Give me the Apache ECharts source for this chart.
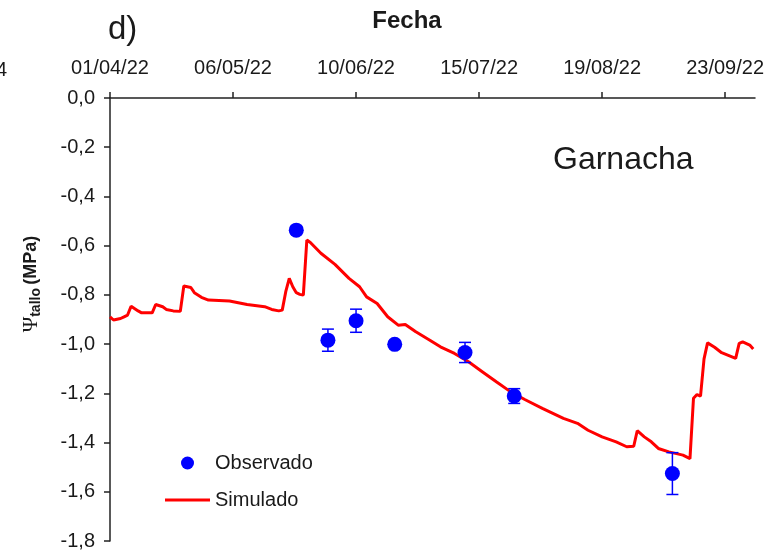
<!DOCTYPE html>
<html>
<head>
<meta charset="utf-8">
<title>Garnacha - Ψ tallo</title>
<script src="https://cdn.jsdelivr.net/npm/echarts@6/dist/echarts.min.js"></script>
<style>
  html, body { margin: 0; padding: 0; background: #fff; }
  #chart { width: 773px; height: 552px; }
</style>
</head>
<body>
<div id="chart"></div>
<script>
// Simulated stem water potential (MPa), daily model output
const simDates = [
  '2022-04-01','2022-04-02','2022-04-04','2022-04-05','2022-04-06','2022-04-07','2022-04-09','2022-04-10',
  '2022-04-13','2022-04-14','2022-04-16','2022-04-17','2022-04-19','2022-04-21','2022-04-22','2022-04-24',
  '2022-04-25','2022-04-27','2022-04-29','2022-05-05','2022-05-10','2022-05-15','2022-05-17','2022-05-19',
  '2022-05-20','2022-05-21','2022-05-22','2022-05-23','2022-05-24','2022-05-25','2022-05-26','2022-05-27',
  '2022-05-28','2022-05-31','2022-06-04','2022-06-08','2022-06-11','2022-06-13','2022-06-16','2022-06-19',
  '2022-06-22','2022-06-24','2022-06-27','2022-07-01','2022-07-04','2022-07-08','2022-07-12','2022-07-16',
  '2022-07-20','2022-07-24','2022-07-28','2022-08-02','2022-08-08','2022-08-12','2022-08-15','2022-08-19',
  '2022-08-23','2022-08-26','2022-08-28','2022-08-29','2022-08-31','2022-09-02','2022-09-04','2022-09-07',
  '2022-09-11','2022-09-13','2022-09-14','2022-09-15','2022-09-16','2022-09-17','2022-09-18','2022-09-20',
  '2022-09-22','2022-09-26','2022-09-27','2022-09-28','2022-09-30','2022-10-01'
];
const simValues = [
  -0.889,-0.902,-0.896,-0.889,-0.882,-0.846,-0.865,-0.873,
  -0.873,-0.839,-0.848,-0.859,-0.865,-0.867,-0.764,-0.770,
  -0.791,-0.810,-0.821,-0.825,-0.839,-0.848,-0.859,-0.865,
  -0.862,-0.787,-0.733,-0.767,-0.791,-0.798,-0.801,-0.577,
  -0.587,-0.631,-0.676,-0.733,-0.767,-0.808,-0.835,-0.889,
  -0.923,-0.920,-0.950,-0.984,-1.011,-1.038,-1.072,-1.113,
  -1.154,-1.194,-1.225,-1.261,-1.302,-1.322,-1.350,-1.377,
  -1.397,-1.417,-1.415,-1.352,-1.377,-1.397,-1.424,-1.438,
  -1.451,-1.465,-1.220,-1.205,-1.211,-1.060,-0.995,-1.013,
  -1.035,-1.058,-0.997,-0.991,-1.004,-1.020
];

// Field measurements: mean and error
const obsDates  = ['2022-05-24','2022-06-02','2022-06-10','2022-06-21','2022-07-11','2022-07-25','2022-09-08'];
const obsValues = [-0.537, -0.984, -0.905, -1.001, -1.034, -1.211, -1.526];
const obsErr    = [0.015, 0.045, 0.047, 0.012, 0.041, 0.030, 0.085];

// Axis tick labels
const xTickLabels = ['01/04/22','06/05/22','10/06/22','15/07/22','19/08/22','23/09/22'];

const START = Date.UTC(2022, 3, 1);
const DAY = 86400000;
const dayOf = s => (Date.parse(s + 'T00:00:00Z') - START) / DAY;
const dayOfLabel = l => {
  const [d, m, y] = l.split('/').map(Number);
  return (Date.UTC(2000 + y, m - 1, d) - START) / DAY;
};
const fmtDay = v => {
  const dt = new Date(START + Math.round(v) * DAY);
  const p = n => String(n).padStart(2, '0');
  return p(dt.getUTCDate()) + '/' + p(dt.getUTCMonth() + 1) + '/' + String(dt.getUTCFullYear()).slice(2);
};

const xTicks = xTickLabels.map(dayOfLabel);
const simData = simDates.map((d, i) => [dayOf(d), simValues[i]]);
const obsData = obsDates.map((d, i) => [dayOf(d), obsValues[i]]);
const errData = obsDates.map((d, i) => [dayOf(d), obsValues[i] - obsErr[i], obsValues[i] + obsErr[i]]);

const FONT = "'Liberation Sans', Arial, sans-serif";
const INK = '#1a1a1a';
const BLUE = '#0000ff';
const RED = '#ff0000';

const chart = echarts.init(document.getElementById('chart'), null, { renderer: 'canvas' });

chart.setOption({
  animation: false,
  backgroundColor: '#fff',
  grid: { left: 110, right: 18, top: 98, bottom: 11, containLabel: false },
  xAxis: {
    type: 'value',
    position: 'top',
    min: 0,
    max: 183.5,
    axisLine: { show: true, onZero: false, lineStyle: { color: '#222', width: 1.5 } },
    axisTick: { show: true, length: 6, customValues: xTicks, lineStyle: { color: '#222', width: 1.5 } },
    axisLabel: {
      customValues: xTicks,
      formatter: fmtDay,
      margin: 20,
      fontFamily: FONT, fontSize: 20, color: INK
    },
    splitLine: { show: false }
  },
  yAxis: {
    type: 'value',
    min: -1.8,
    max: 0,
    interval: 0.2,
    axisLine: { show: true, onZero: false, lineStyle: { color: '#222', width: 1.5 } },
    axisTick: { show: true, length: 6, lineStyle: { color: '#222', width: 1.5 } },
    axisLabel: {
      formatter: v => v.toFixed(1).replace('.', ','),
      margin: 15,
      fontFamily: FONT, fontSize: 20, color: INK
    },
    splitLine: { show: false }
  },
  legend: {
    data: [
      { name: 'Observado', icon: 'circle' },
      { name: 'Simulado', icon: 'path://M0 0H45V3H0Z' }
    ],
    orient: 'vertical',
    left: 160,
    top: 448,
    itemWidth: 45,
    itemHeight: 13,
    itemGap: 17,
    symbolKeepAspect: true,
    textStyle: { fontFamily: FONT, fontSize: 20, color: INK },
    selectedMode: false
  },
  series: [
    {
      name: 'Simulado',
      type: 'line',
      data: simData,
      symbol: 'none',
      lineStyle: { color: RED, width: 3 },
      itemStyle: { color: RED },
      z: 2
    },
    {
      name: 'Barras',
      type: 'custom',
      data: errData,
      renderItem: (params, api) => {
        const x = api.value(0);
        const lo = api.coord([x, api.value(1)]);
        const hi = api.coord([x, api.value(2)]);
        const hw = 6;
        const style = { stroke: BLUE, lineWidth: 1.5 };
        return {
          type: 'group',
          children: [
            { type: 'line', shape: { x1: lo[0], y1: lo[1], x2: hi[0], y2: hi[1] }, style },
            { type: 'line', shape: { x1: lo[0] - hw, y1: lo[1], x2: lo[0] + hw, y2: lo[1] }, style },
            { type: 'line', shape: { x1: hi[0] - hw, y1: hi[1], x2: hi[0] + hw, y2: hi[1] }, style }
          ]
        };
      },
      z: 3
    },
    {
      name: 'Observado',
      type: 'scatter',
      data: obsData,
      symbol: 'circle',
      symbolSize: 15,
      itemStyle: { color: BLUE, opacity: 1 },
      z: 4
    }
  ],
  graphic: [
    {
      type: 'text', x: 108, y: 30,
      style: { text: 'd)', font: "33px 'Liberation Sans', Arial, sans-serif", fill: INK, align: 'left', verticalAlign: 'middle' }
    },
    {
      type: 'text', x: 407, y: 21,
      style: { text: 'Fecha', font: "bold 24px 'Liberation Sans', Arial, sans-serif", fill: INK, align: 'center', verticalAlign: 'middle' }
    },
    {
      type: 'text', x: -4, y: 70,
      style: { text: '4', font: "20px 'Liberation Sans', Arial, sans-serif", fill: INK, align: 'left', verticalAlign: 'middle' }
    },
    {
      type: 'text', x: 553, y: 160,
      style: { text: 'Garnacha', font: "32px 'Liberation Sans', Arial, sans-serif", fill: INK, align: 'left', verticalAlign: 'middle' }
    },
    {
      type: 'text', x: 31, y: 284, rotation: Math.PI / 2,
      style: {
        text: '{p|Ψ}{s|tallo} {b|(MPa)}',
        align: 'center', verticalAlign: 'middle',
        rich: {
          p: { fontFamily: "'Liberation Serif', 'Times New Roman', serif", fontSize: 21, fill: INK, lineHeight: 24, verticalAlign: 'middle' },
          s: { fontFamily: FONT, fontSize: 14, fontWeight: 'bold', fill: INK, lineHeight: 24, verticalAlign: 'bottom', padding: [6, 0, 0, 0] },
          b: { fontFamily: FONT, fontSize: 18, fontWeight: 'bold', fill: INK, lineHeight: 24, verticalAlign: 'middle' }
        }
      }
    }
  ]
});
</script>
</body>
</html>
